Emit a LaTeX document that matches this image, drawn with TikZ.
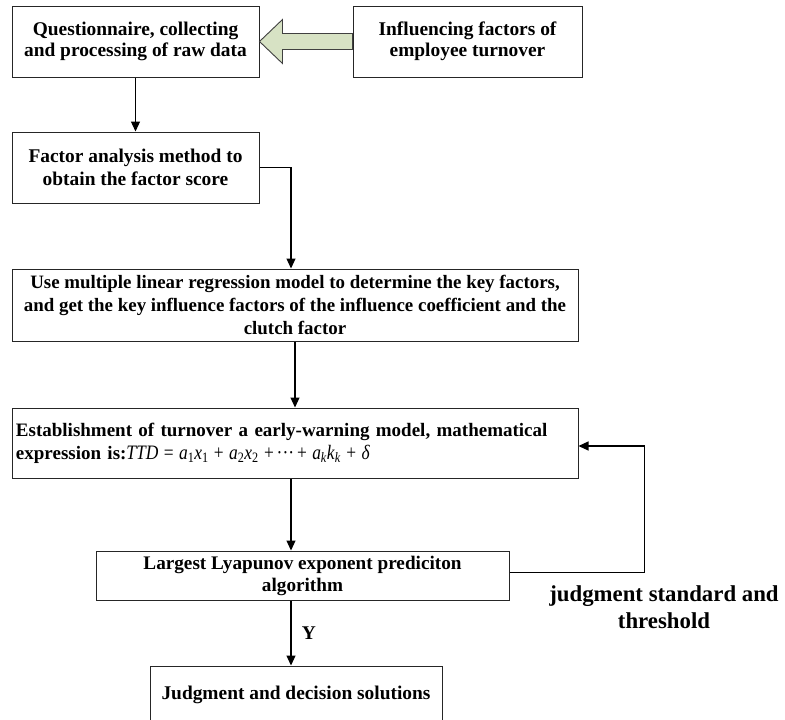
\documentclass[tikz,border=0pt]{standalone}
\usepackage{fontspec}
\usepackage{graphicx}
\setmainfont{Liberation Serif}
\usetikzlibrary{arrows.meta,calc}
\definecolor{olivefill}{RGB}{215,226,196}
\tikzset{
  box/.style={draw=black!85, line width=1pt, rectangle, inner sep=0pt, anchor=center,
    font=\fontsize{19.4}{22.5}\selectfont\bfseries, align=center},
  arr/.style={draw=black, line width=1.2pt, -{Triangle[length=10pt,width=9pt]}},
  blockarrow/.style={draw=black!75, line width=0.9pt, fill=olivefill},
  lbl/.style={font=\fontsize{19.4}{22.5}\selectfont\bfseries, inner sep=0pt}
}
\newcommand{\sbs}[1]{\textsubscript{#1}}
\begin{document}
\begin{tikzpicture}[x=1pt,y=-1pt]
\useasboundingbox (0,0) rectangle (785,720);
\clip (0,0) rectangle (785,720);
\fill[white] (0,0) rectangle (785,720);

\node[box, minimum width=247pt, minimum height=71pt, font=\fontsize{19.4}{21.5}\selectfont\bfseries] (b1) at (135.5,41.5)
  {Questionnaire, collecting\\and processing of raw data};
\node[box, minimum width=229pt, minimum height=71pt, font=\fontsize{19.4}{21.5}\selectfont\bfseries] (b2) at (467.5,41.5)
  {Influencing factors of\\employee turnover};
\node[box, minimum width=247pt, minimum height=71pt] (b3) at (135.5,167.5)
  {Factor analysis method to\\obtain the factor score};
\node[box, minimum width=566pt, minimum height=72pt, font=\fontsize{18.9}{22.8}\selectfont\bfseries] (b4) at (295,305)
  {Use multiple linear regression model to determine the key factors,\\and get the key influence factors of the influence coefficient and the\\clutch factor};
\node[box, minimum width=566pt, minimum height=70pt, text width=558pt, align=left, inner xsep=4pt, font=\fontsize{19.0}{23}\selectfont\bfseries] (b5) at (295,443)
  {Establishment of turnover a early-warning model, mathematical\\expression is:\scalebox{0.85}[1]{\fontsize{20.5}{23}\selectfont\mdseries\itshape TTD\/\upshape\ = \textit{a}\sbs{1}\textit{x}\sbs{1} + \textit{a}\sbs{2}\textit{x}\sbs{2} +\,\textperiodcentered\textperiodcentered\textperiodcentered\,+ \textit{a}\sbs{\textit{k}}\textit{k}\sbs{\textit{k}} + \textit{δ}}};
\node[box, minimum width=413pt, minimum height=49pt, font=\fontsize{19.2}{22}\selectfont\bfseries] (b6) at (302.5,575.5)
  {Largest Lyapunov exponent prediciton\\algorithm};
\node[box, minimum width=292pt, minimum height=58pt] (b7) at (296,695)
  {Judgment and decision solutions};

% block arrow from b2 to b1
\draw[blockarrow] (b1.east) -- ($(b1.east)+(23,-22)$) -- ($(b1.east)+(23,-8)$)
  -- ($(b2.west)+(0,-8)$) -- ($(b2.west)+(0,8)$) -- ($(b1.east)+(23,8)$)
  -- ($(b1.east)+(23,22)$) -- cycle;

\draw[arr] (b1.south) -- (b3.north);
\coordinate (c34) at ($(b4.north)+(-4,0)$);
\draw[arr] (b3.east) -| (c34);
\draw[arr] (b4.south) -- (b5.north);
\coordinate (s5) at ($(b5.south)+(-4,0)$);
\draw[arr] (s5) -- (s5 |- b6.north);
\coordinate (s6) at (s5 |- b6.south);
\draw[arr] (s6) -- (s6 |- b7.north);
\coordinate (fb1) at ($(b6.east)+(0,-3)$);
\coordinate (fb2) at ($(b5.east)+(66,3)$);
\coordinate (fb3) at ($(b5.east)+(0,3)$);
\draw[arr] (fb1) -| (fb2) -- (fb3);

\node[lbl] (ylab) at (309,633) {Y};
\node[font=\fontsize{22.8}{27}\selectfont\bfseries, align=center, inner sep=0pt] (thr) at (664,607)
  {judgment standard and\\threshold};
\end{tikzpicture}
\end{document}
